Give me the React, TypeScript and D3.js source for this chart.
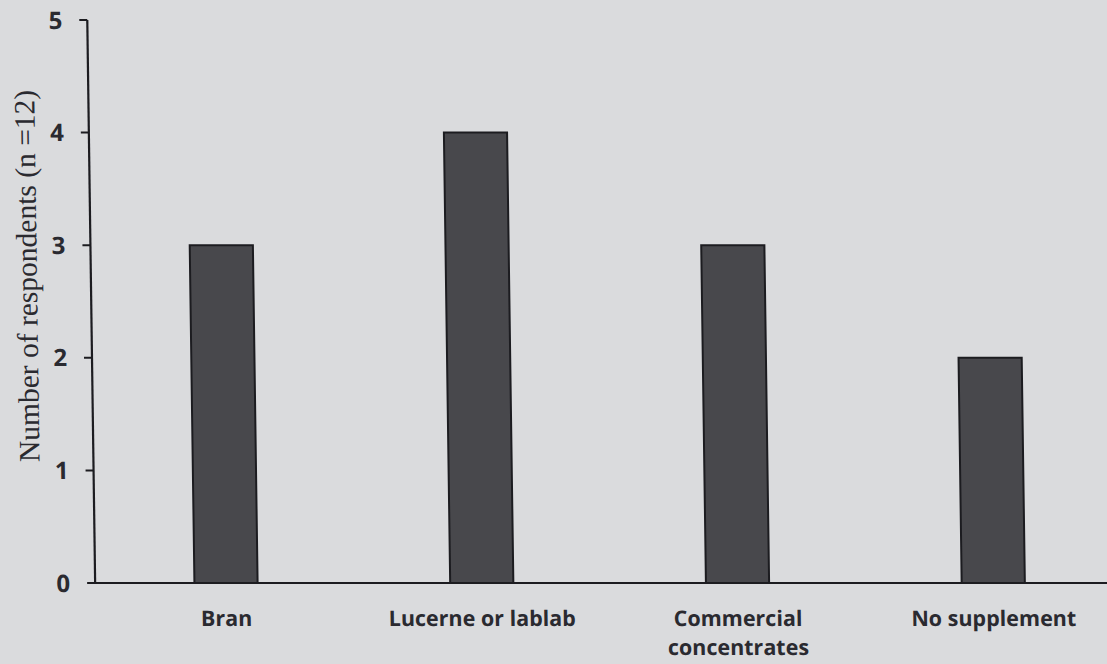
import React from "react";
import * as d3 from "d3";

const categories: string[][] = [["Bran"], ["Lucerne or lablab"], ["Commercial", "concentrates"], ["No supplement"]];
const values: number[] = [3, 4, 3, 2];
const yTicks: number[] = [0, 1, 2, 3, 4, 5];
const yTitle = "Number of respondents (n =12)";

const W = 1107;
const H = 664;

export default function App() {
  const x = d3
    .scaleBand<number>()
    .domain(values.map((_, i) => i))
    .range([90, 1113])
    .paddingInner(0.753)
    .paddingOuter(0.3765);
  const y = d3.scaleLinear().domain([0, 5]).range([583, 20]);
  const axisX = 87;
  const ink = "#1c1c20";
  const textInk = "#2a2a30";
  const sans = "'Open Sans', 'DejaVu Sans', sans-serif";

  return (
    <svg
      width={W}
      height={H}
      style={{ position: "absolute", left: 0, top: 0, background: "#dadbdd" }}
    >
      <rect x={0} y={0} width={W} height={H} fill="#dadbdd" />
      {/* slight scan skew of the original page */}
      <g transform="skewX(0.8)">
        {values.map((v, i) => (
          <rect
            key={i}
            x={x(i)!}
            y={y(v)}
            width={x.bandwidth()}
            height={y(0) - y(v)}
            fill="#48484c"
            stroke={ink}
            strokeWidth={2}
          />
        ))}
        {/* y axis */}
        <line x1={axisX} x2={axisX} y1={y(5)} y2={y(0)} stroke={ink} strokeWidth={2.2} />
        {yTicks.map((t) => (
          <g key={t}>
            <line x1={axisX - 8} x2={axisX} y1={y(t)} y2={y(t)} stroke={ink} strokeWidth={2} />
            <text
              x={axisX - 25}
              y={y(t)}
              dy="0.36em"
              textAnchor="end"
              fontFamily={sans}
              fontWeight="bold"
              fontSize={24}
              fill={textInk}
            >
              {t}
            </text>
          </g>
        ))}
        {/* x axis */}
        <line x1={axisX - 2} x2={W} y1={y(0)} y2={y(0)} stroke={ink} strokeWidth={2.2} />
        {categories.map((lines, i) => (
          <text
            key={i}
            x={x(i)! + x.bandwidth() / 2}
            y={626}
            textAnchor="middle"
            fontFamily={sans}
            fontWeight={700}
            fontSize={21.5}
            fill={textInk}
          >
            {lines.map((l, j) => (
              <tspan key={j} x={x(i)! + x.bandwidth() / 2} dy={j === 0 ? 0 : 29}>
                {l}
              </tspan>
            ))}
          </text>
        ))}
        <text
          transform={`translate(33, 276) rotate(-90)`}
          textAnchor="middle"
          fontFamily="'Liberation Serif', 'Times New Roman', serif"
          fontSize={29.5}
          fill={textInk}
        >
          {yTitle}
        </text>
      </g>
    </svg>
  );
}
